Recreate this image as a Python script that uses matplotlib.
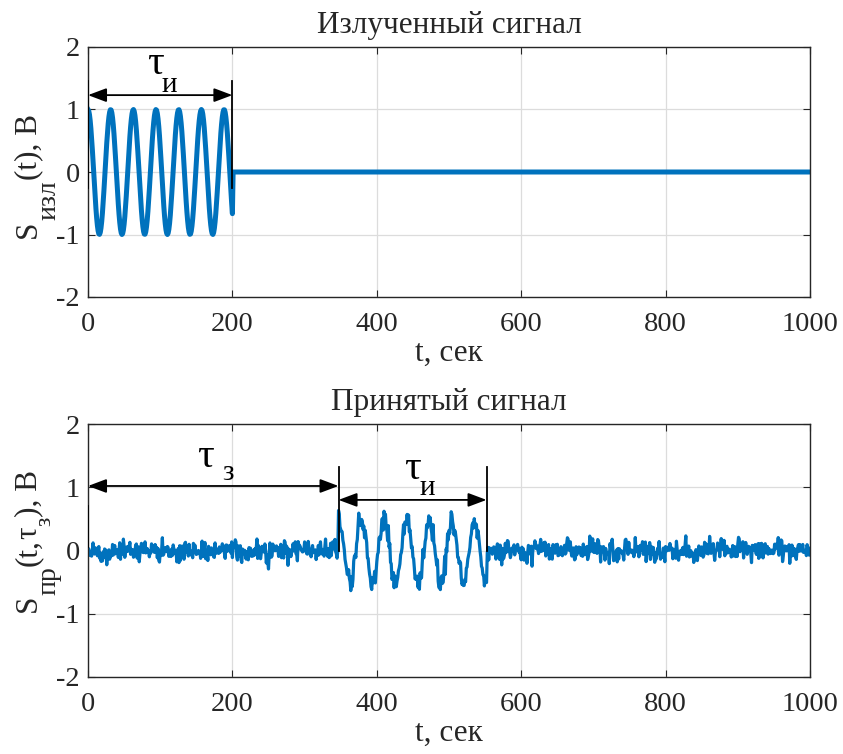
import numpy as np
import matplotlib
matplotlib.use("Agg")
import matplotlib.pyplot as plt

plt.rcParams['font.family'] = ['Liberation Serif', 'DejaVu Serif']
plt.rcParams['axes.unicode_minus'] = False

# Signal parameters
t_max = 1000          # observation interval, s
dt = 1.0              # sampling step, s
omega = 0.2           # carrier angular frequency, rad/s
tx_amplitude = 1.0    # emitted pulse amplitude, V
rx_amplitude = 0.5    # received pulse amplitude, V
pulse_width = 200     # emitted pulse duration, s
rx_start = 347        # received pulse start (delay), s
rx_end = 552          # received pulse end, s
noise_std = 0.09      # receiver noise level, V

x_ticks = [0, 200, 400, 600, 800, 1000]
y_ticks = [-2, -1, 0, 1, 2]

t = np.arange(0, t_max + dt, dt)

# Emitted radio pulse
s_tx = np.where(t <= pulse_width, tx_amplitude * np.cos(omega * t), 0.0)

# Received signal: delayed, attenuated pulse plus receiver noise
rng = np.random.default_rng(7)
noise = rng.normal(0.0, noise_std, t.size)
in_pulse = (t >= rx_start) & (t <= rx_end)
s_rx = np.where(in_pulse, rx_amplitude * np.cos(omega * (t - rx_start)), 0.0) + noise

line_color = '#0072BD'
frame_color = '#262626'
tick_size = 20.5
label_size = 22.5
sub_size = 20

W, H = 843, 754
fig = plt.figure(figsize=(W / 100, H / 100), dpi=100)
ax1 = fig.add_axes([88 / W, 1 - 297 / H, 722 / W, 250 / H])
ax2 = fig.add_axes([88 / W, 1 - 677 / H, 722 / W, 253 / H])

for ax in (ax1, ax2):
    ax.set_xlim(0, t_max)
    ax.set_ylim(-2, 2)
    ax.set_xticks(x_ticks)
    ax.set_yticks(y_ticks)
    ax.grid(True, color='#dcdcdc', lw=0.9)
    ax.set_axisbelow(True)
    ax.tick_params(direction='in', top=True, right=True, length=5,
                   color=frame_color, labelsize=tick_size, pad=6, labelcolor=frame_color)
    ax.tick_params(axis='x', pad=11)
    for sp in ax.spines.values():
        sp.set_color(frame_color)
        sp.set_linewidth(1.0)
    ax.set_xlabel('t, сек', fontsize=label_size, labelpad=1, color=frame_color)


def vertical_label(pieces, x_base, y_center):
    """Rotated label built from pieces (text, size, baseline shift in px)."""
    renderer = fig.canvas.get_renderer()
    items = []
    for s, size, shift in pieces:
        txt = fig.text(0, 0, s, fontsize=size, rotation=90, rotation_mode='anchor',
                       ha='left', va='baseline', color=frame_color)
        items.append((txt, shift, txt.get_window_extent(renderer).height))
    total = sum(h for _, _, h in items)
    y = y_center + total / 2
    for txt, shift, h in items:
        txt.set_position(((x_base + shift) / W, 1 - y / H))
        y -= h


arrow_kw = dict(arrowstyle='<|-|>,head_length=0.8,head_width=0.3',
                color='k', lw=1.3, shrinkA=0, shrinkB=0, mutation_scale=14)

# Upper panel: emitted signal
ax1.plot(t, s_tx, color=line_color, lw=3.6, solid_joinstyle='round')
ax1.set_title('Излученный сигнал', fontsize=label_size, pad=10, color=frame_color)
vertical_label([('S', label_size, 0), ('изл', sub_size, 19), ('(t), В', label_size, 0)],
               x_base=36, y_center=176)

ax1.plot([0, 0], [-0.25, 1.45], color='k', lw=1.3, zorder=5)
ax1.plot([pulse_width, pulse_width], [-0.25, 1.45], color='k', lw=1.3, zorder=5)
ax1.annotate('', xy=(0, 1.23), xytext=(pulse_width, 1.23), arrowprops=arrow_kw, zorder=6)
ax1.text(93, 1.74, 'τ', fontsize=30, ha='center', va='center')
ax1.text(112, 1.40, 'и', fontsize=21, ha='center', va='center')

# Lower panel: received signal
ax2.plot(t, s_rx, color=line_color, lw=2.3, solid_joinstyle='round')
ax2.set_title('Принятый сигнал', fontsize=label_size, pad=10, color=frame_color)
vertical_label([('S', label_size, 0), ('пр', sub_size, 19), ('(t,', label_size, 0),
                ('τ', label_size, 0), ('з', 17, 14), ('), В', label_size, 0)],
               x_base=36, y_center=541)

ax2.plot([0, 0], [0.05, 0.7], color='k', lw=1.3, zorder=5)
ax2.plot([rx_start, rx_start], [0.0, 1.32], color='k', lw=1.3, zorder=5)
ax2.plot([rx_end, rx_end], [0.0, 1.32], color='k', lw=1.3, zorder=5)
ax2.annotate('', xy=(0, 1.02), xytext=(rx_start, 1.02), arrowprops=arrow_kw, zorder=6)
ax2.annotate('', xy=(rx_start, 0.80), xytext=(rx_end, 0.80), arrowprops=arrow_kw, zorder=6)
ax2.text(162, 1.48, 'τ', fontsize=30, ha='center', va='center')
ax2.text(194, 1.22, 'з', fontsize=21, ha='center', va='center')
ax2.text(449, 1.30, 'τ', fontsize=30, ha='center', va='center')
ax2.text(470, 0.99, 'и', fontsize=21, ha='center', va='center')

fig.savefig('out.png', dpi=100, facecolor='white')
